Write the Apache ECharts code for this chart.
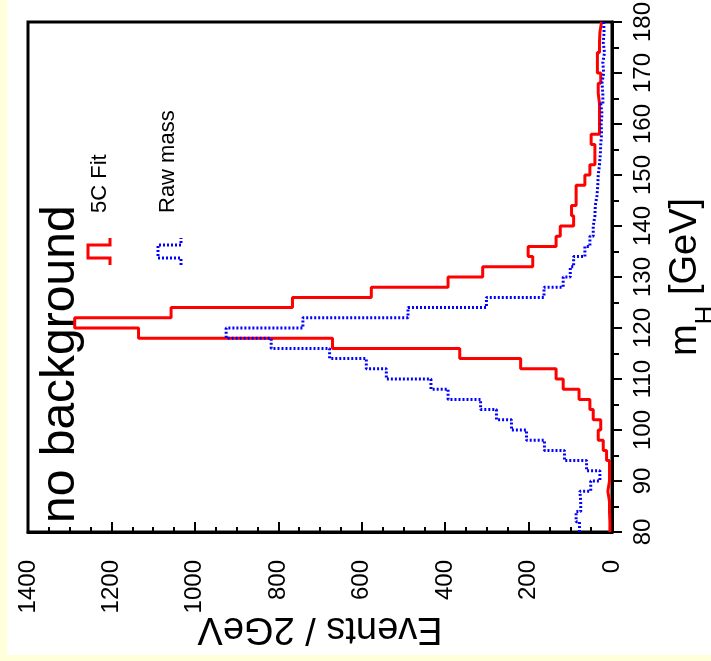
<!DOCTYPE html>
<html>
<head>
<meta charset="utf-8">
<script src="https://cdn.jsdelivr.net/npm/echarts@6/dist/echarts.min.js"></script>
<style>
  html, body { margin: 0; padding: 0; background: #ffffff; }
  #chart { width: 711px; height: 661px; }
</style>
</head>
<body>
<div id="chart"></div>
<script>
// Lower edges of the 2 GeV mass bins (GeV)
const binLow = [
  80, 82, 84, 86, 88, 90, 92, 94, 96, 98,
  100, 102, 104, 106, 108, 110, 112, 114, 116, 118,
  120, 122, 124, 126, 128, 130, 132, 134, 136, 138,
  140, 142, 144, 146, 148, 150, 152, 154, 156, 158,
  160, 162, 164, 166, 168, 170, 172, 174, 176, 178
];
const binWidth = 2;

// Events per bin after the 5C kinematic fit
const fitEvents = [
  5, 6, 6, 10, 6, 6, 6, 13, 21, 33,
  27, 45, 53, 79, 117, 134, 219, 365, 670, 1135,
  1288, 1057, 766, 577, 393, 310, 190, 201, 134, 124,
  92, 97, 86, 86, 65, 53, 41, 41, 50, 30,
  30, 30, 33, 33, 27, 35, 35, 30, 29, 25
];

// Events per bin for the raw reconstructed mass
const rawEvents = [
  78, 86, 75, 77, 51, 29, 61, 114, 162, 205,
  241, 277, 315, 393, 434, 541, 589, 677, 817, 925,
  741, 489, 301, 163, 117, 100, 92, 65, 53, 45,
  41, 40, 36, 34, 33, 30, 28, 27, 25, 26,
  24, 27, 22, 24, 20, 22, 18, 21, 19, 20
];

const massTicks = { min: 80, max: 180, step: 10 };
const eventTicks = { min: 0, max: 1400, step: 200 };

const FONT = '"Liberation Sans", Arial, Helvetica, sans-serif';

// Histogram outline: each bin becomes a segment spanning its mass range
function outline(values) {
  const pts = [];
  values.forEach((v, i) => {
    pts.push([v, binLow[i]]);
    pts.push([v, binLow[i] + binWidth]);
  });
  return pts;
}

const plain = v => String(v);

const chart = echarts.init(document.getElementById('chart'), null, { renderer: 'canvas' });

chart.setOption({
  animation: false,
  backgroundColor: '#ffffff',
  grid: {
    left: 28, right: 99, top: 22, bottom: 129,
    containLabel: false,
    outerBoundsMode: 'none',
    show: true, borderColor: '#000', borderWidth: 3, backgroundColor: 'transparent'
  },
  xAxis: {
    type: 'value',
    min: eventTicks.min, max: eventTicks.max, interval: eventTicks.step,
    inverse: true,
    position: 'bottom',
    axisLine: { show: true, onZero: false, lineStyle: { color: '#000', width: 3 } },
    axisTick: { show: true, inside: true, length: 10, lineStyle: { color: '#000', width: 2 } },
    minorTick: { show: true, splitNumber: 4, length: 5, lineStyle: { color: '#000', width: 2 } },
    splitLine: { show: false },
    axisLabel: { rotate: 90, margin: 28, fontSize: 24, color: '#000', fontFamily: FONT, formatter: plain },
    name: 'Events / 2GeV',
    nameLocation: 'middle',
    nameRotate: 180,
    nameGap: 77,
    nameMoveOverlap: false,
    nameTextStyle: { fontSize: 38, color: '#000', fontFamily: FONT }
  },
  yAxis: {
    type: 'value',
    min: massTicks.min, max: massTicks.max, interval: massTicks.step,
    position: 'right',
    axisLine: { show: true, onZero: false, lineStyle: { color: '#000', width: 3 } },
    axisTick: { show: true, inside: false, length: 10, lineStyle: { color: '#000', width: 2 } },
    minorTick: { show: true, splitNumber: 2, length: 7, lineStyle: { color: '#000', width: 2 } },
    splitLine: { show: false },
    axisLabel: {
      rotate: 90, margin: 31, align: 'center', verticalAlign: 'middle',
      fontSize: 24, color: '#000', fontFamily: FONT, formatter: plain
    },
    name: '{m|m}{h|H}{g| [GeV]}',
    nameLocation: 'middle',
    nameRotate: 90,
    nameGap: 55,
    nameMoveOverlap: false,
    nameTextStyle: {
      color: '#000', fontFamily: FONT,
      rich: {
        m: { fontSize: 38, lineHeight: 40, verticalAlign: 'top', fontFamily: FONT, color: '#000' },
        h: { fontSize: 26, lineHeight: 26, padding: [26, 0, 0, 0], verticalAlign: 'top', fontFamily: FONT, color: '#000' },
        g: { fontSize: 38, lineHeight: 40, verticalAlign: 'top', fontFamily: FONT, color: '#000' }
      }
    }
  },
  series: [
    {
      name: '5C Fit',
      type: 'line',
      data: outline(fitEvents),
      symbol: 'none',
      lineStyle: { color: '#ff0000', width: 3 },
      z: 3
    },
    {
      name: 'Raw mass',
      type: 'line',
      data: outline(rawEvents),
      symbol: 'none',
      lineStyle: { color: '#0000ff', width: 3, type: [2, 2] },
      z: 4
    }
  ],
  graphic: [
    { type: 'rect', silent: true, shape: { x: 0, y: 0, width: 7, height: 661 }, style: { fill: '#ffffd9' } },
    { type: 'rect', silent: true, shape: { x: 0, y: 655, width: 711, height: 6 }, style: { fill: '#ffffd9' } },
    {
      type: 'text', x: 37, y: 523, rotation: Math.PI / 2,
      style: { text: 'no background', fontSize: 48, fontFamily: FONT, fill: '#000', align: 'left', verticalAlign: 'top' }
    },
    {
      type: 'polyline', silent: true,
      shape: { points: [[110, 265], [110, 258], [88, 258], [88, 245], [110, 245], [110, 238]] },
      style: { stroke: '#ff0000', lineWidth: 3, fill: null }
    },
    {
      type: 'text', x: 89, y: 213, rotation: Math.PI / 2,
      style: { text: '5C Fit', fontSize: 22, fontFamily: FONT, fill: '#000', align: 'left', verticalAlign: 'top' }
    },
    {
      type: 'polyline', silent: true,
      shape: { points: [[181, 265], [181, 258], [158, 258], [158, 245], [181, 245], [181, 238]] },
      style: { stroke: '#0000ff', lineWidth: 3, lineDash: [2, 2], fill: null }
    },
    {
      type: 'text', x: 157, y: 213, rotation: Math.PI / 2,
      style: { text: 'Raw mass', fontSize: 22, fontFamily: FONT, fill: '#000', align: 'left', verticalAlign: 'top' }
    }
  ]
});
</script>
</body>
</html>
